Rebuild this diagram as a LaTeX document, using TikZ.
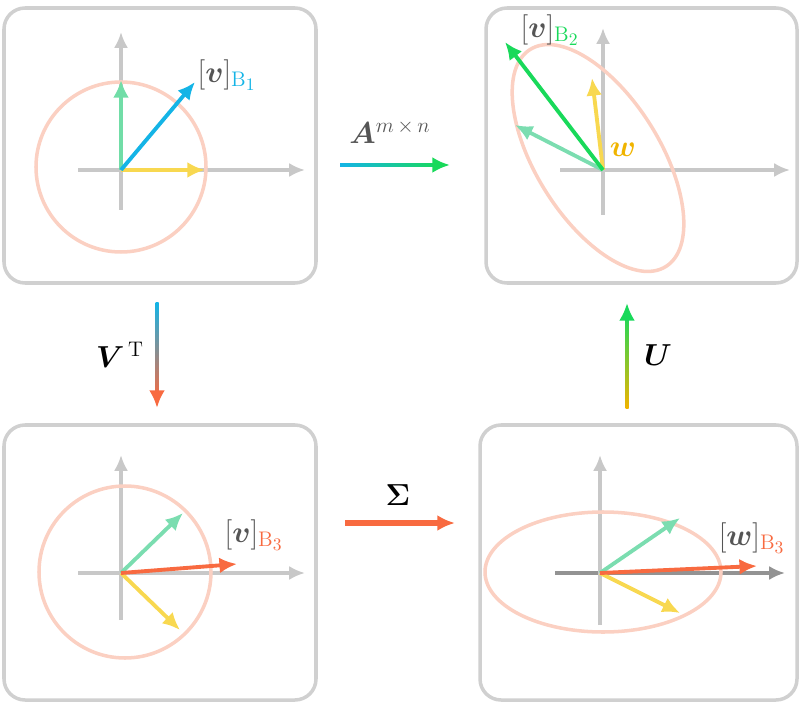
\documentclass[tikz,border=0pt]{standalone}
\usepackage{amsmath,bm}
\usetikzlibrary{arrows.meta}
\definecolor{pbox}{HTML}{D0D0D0}
\definecolor{axc}{HTML}{C8C8C8}
\definecolor{circ}{HTML}{FBD0C2}
\definecolor{cblue}{HTML}{14B4E6}
\definecolor{cgreen}{HTML}{19D95A}
\definecolor{lgreen}{HTML}{7BDDB0}
\definecolor{cyel}{HTML}{F8D850}
\definecolor{wyel}{HTML}{F0B400}
\definecolor{corg}{HTML}{F86A40}
\definecolor{lblc}{HTML}{555555}
\begin{document}
\begin{tikzpicture}[x=0.02cm,y=-0.02cm,
  panel/.style={draw=pbox,line width=2pt,rounded corners=12pt},
  axis/.style={draw=axc,line width=2pt,-{Latex[length=9pt,width=8pt]}},
  vec/.style={line width=2.2pt,-{Latex[length=10pt,width=9pt]}},
  ring/.style={draw=circ,line width=2pt},
  lbl/.style={font=\LARGE,text=lblc},
  opl/.style={font=\LARGE}]
\useasboundingbox (0,0) rectangle (800,705);
% panels
\draw[panel] (4,8) rectangle (316,283);
\draw[panel] (486,8) rectangle (797,283);
\draw[panel] (4,425) rectangle (316,700);
\draw[panel] (480,425) rectangle (797,700);
% TL
\coordinate (o1) at (121,170);
\draw[axis] (78,170) -- (305,170);
\draw[axis] (121,210) -- (121,32);
\draw[ring] (121,167) circle (85);
\draw[vec,draw=lgreen!90!cgreen,-{Latex[length=10pt,width=9pt]}] (o1) -- (121,80);
\draw[vec,cyel] (o1) -- (205,170);
\draw[vec,cblue] (o1) -- (195,82);
\node[lbl] at (227,75) {$[\bm{v}]_{\textcolor{cblue}{\mathrm{B}_1}}$};
% TR
\coordinate (o2) at (603,170);
\draw[axis] (560,170) -- (790,170);
\draw[axis] (603,215) -- (603,28);
\draw[ring,rotate around={-58:(598,158)}] (598,158) ellipse (128 and 62);
\draw[vec,lgreen] (o2) -- (515,125);
\draw[vec,cyel] (o2) -- (592,78);
\draw[vec,cgreen] (o2) -- (505,42);
\node[lbl] at (550,30) {$[\bm{v}]_{\textcolor{cgreen}{\mathrm{B}_2}}$};
\node[font=\LARGE,text=wyel] at (623,150) {$\bm{w}$};
% BL
\coordinate (o3) at (121,573);
\draw[axis] (78,573) -- (305,573);
\draw[axis] (121,620) -- (121,455);
\draw[ring] (125,572) circle (86);
\draw[vec,lgreen] (o3) -- (183,513);
\draw[vec,cyel] (o3) -- (180,630);
\draw[vec,corg] (o3) -- (237,564);
\node[lbl] at (254,535) {$[\bm{v}]_{\textcolor{corg}{\mathrm{B}_3}}$};
% BR
\coordinate (o4) at (600,573);
\draw[axis,draw=gray!85] (555,573) -- (785,573);
\draw[axis] (600,625) -- (600,455);
\draw[ring] (603,572) ellipse (118 and 60);
\draw[vec,lgreen] (o4) -- (680,518);
\draw[vec,cyel] (o4) -- (680,613);
\draw[vec,corg] (o4) -- (757,566);
\node[lbl] at (752,538) {$[\bm{w}]_{\textcolor{corg}{\mathrm{B}_3}}$};
% operator arrows
\shade[left color=cblue,right color=cgreen] (340,163.5) rectangle (440,166.5);
\coordinate (a1) at (438,165); \coordinate (a2) at (450,165);
\draw[cgreen,line width=3pt,-{Latex[length=10pt,width=9pt]}] (a1) -- (a2);
\node[opl,text=lblc] at (390,132) {$\bm{A}^{m\,\times\,n}$};
\shade[top color=cblue,bottom color=corg] (155.5,303) rectangle (158.5,398);
\coordinate (b1) at (157,396); \coordinate (b2) at (157,408);
\draw[corg,line width=3pt,-{Latex[length=10pt,width=9pt]}] (b1) -- (b2);
\node[opl] at (120,355) {$\bm{V}^{\,\mathrm{T}}$};
\shade[top color=cgreen,bottom color=wyel] (625.5,313) rectangle (628.5,408);
\coordinate (c1) at (627,315); \coordinate (c2) at (627,303);
\draw[cgreen,line width=3pt,-{Latex[length=10pt,width=9pt]}] (c1) -- (c2);
\node[opl] at (658,355) {$\bm{U}$};
\coordinate (d1) at (345,523); \coordinate (d2) at (455,523);
\draw[corg,line width=3pt,-{Latex[length=10pt,width=9pt]}] (d1) -- (d2);
\node[opl] at (398,495) {$\bm{\Sigma}$};
\end{tikzpicture}
\end{document}
